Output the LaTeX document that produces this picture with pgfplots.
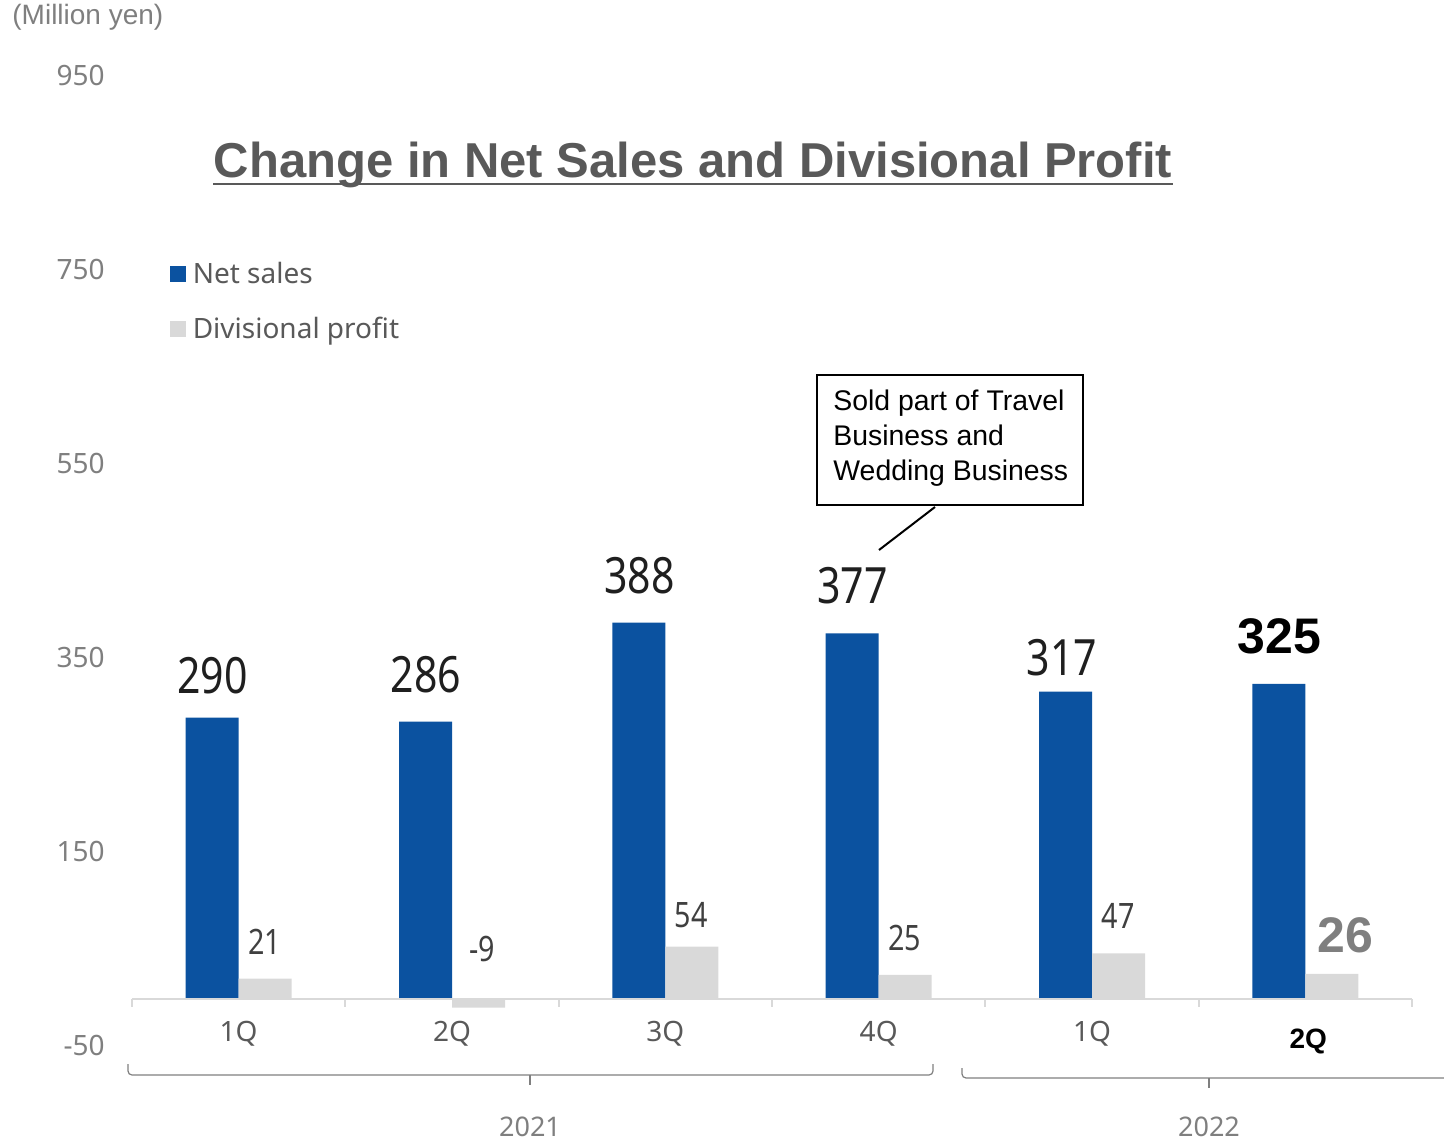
\documentclass[border=0pt]{standalone}
\usepackage{pgfplots}
\pgfplotsset{compat=1.18}
\usepackage{fontspec}
\setmainfont{Noto Sans}
\newfontfamily\arialf{Liberation Sans}
\newfontfamily\numf[FakeStretch=0.82]{Noto Sans}
\definecolor{sales}{HTML}{0B52A0}
\definecolor{profit}{HTML}{D9D9D9}
\definecolor{tgrey}{HTML}{595959}
\definecolor{lgrey}{HTML}{7F7F7F}
\definecolor{dgrey}{HTML}{404040}
\begin{document}
\begin{tikzpicture}
\path[use as bounding box] (0,0) rectangle (722pt,-571.5pt);
\begin{axis}[
  at={(66pt,-523.75pt)}, anchor=south west,
  scale only axis, width=640pt, height=485pt,
  xmin=-0.5, xmax=5.5, ymin=-50, ymax=950,
  ybar=0pt, bar width=26.5pt,
  axis line style={draw=none},
  xtick=\empty,
  ytick={-50,150,350,550,750,950},
  ytick style={draw=none},
  yticklabel style={font=\fontsize{14}{14}\selectfont, text=lgrey, anchor=east, inner sep=0pt, xshift=-13.5pt, yshift=1pt},
  /pgf/number format/assume math mode=true,
  clip=false,
  legend style={draw=none, fill=none, at={(0.0297,0.814)}, anchor=north west,
    font=\fontsize{14}{14}\selectfont\color{tgrey}, row sep=11pt, inner sep=0pt,
    nodes={inner xsep=3.2pt}},
  legend cell align=left,
]
\addplot[fill=sales, draw=none, legend image code/.code={\path[fill=sales] (0pt,-4pt) rectangle (8pt,4pt);}]
  coordinates {(0,290) (1,286) (2,388) (3,377) (4,317) (5,325)};
\addplot[fill=profit, draw=none, legend image code/.code={\path[fill=profit] (0pt,-4pt) rectangle (8pt,4pt);}]
  coordinates {(0,21) (1,-9) (2,54) (3,25) (4,47) (5,26)};
\legend{Net sales, Divisional profit}
\draw[profit, line width=1pt] (axis cs:-0.5,0) -- (axis cs:5.5,0);
\pgfplotsinvokeforeach{-0.5,0.5,1.5,2.5,3.5,4.5,5.5}{\draw[profit, line width=1pt] (axis cs:#1,0) -- ([yshift=-4pt]axis cs:#1,0);}
% category labels
\node[font=\fontsize{14}{14}\selectfont, text=tgrey] at (axis cs:0,-35.5) {1Q};
\node[font=\fontsize{14}{14}\selectfont, text=tgrey] at (axis cs:1,-35.5) {2Q};
\node[font=\fontsize{14}{14}\selectfont, text=tgrey] at (axis cs:2,-35.5) {3Q};
\node[font=\fontsize{14}{14}\selectfont, text=tgrey] at (axis cs:3,-35.5) {4Q};
\node[font=\fontsize{14}{14}\selectfont, text=tgrey] at (axis cs:4,-35.5) {1Q};
\node[font=\arialf\bfseries\fontsize{14}{14}\selectfont, text=black, xshift=1.5pt] at (axis cs:5,-44) {2Q};
% net sales labels
\node[anchor=base, font=\numf\fontsize{25}{25}\selectfont, text=black!88, xshift=-13pt, yshift=12pt] at (axis cs:0,290) {290};
\node[anchor=base, font=\numf\fontsize{25}{25}\selectfont, text=black!88, xshift=-13pt, yshift=14.5pt] at (axis cs:1,286) {286};
\node[anchor=base, font=\numf\fontsize{25}{25}\selectfont, text=black!88, xshift=-13pt, yshift=14.5pt] at (axis cs:2,388) {388};
\node[anchor=base, font=\numf\fontsize{25}{25}\selectfont, text=black!88, xshift=-13pt, yshift=15pt] at (axis cs:3,377) {377};
\node[anchor=base, font=\numf\fontsize{25}{25}\selectfont, text=black!88, xshift=-15pt, yshift=8pt] at (axis cs:4,317) {317};
\node[anchor=base, font=\arialf\bfseries\fontsize{25}{25}\selectfont, text=black, xshift=-13pt, yshift=15pt] at (axis cs:5,325) {325};
% profit labels
\node[anchor=base, font=\numf\fontsize{17.5}{17.5}\selectfont, text=dgrey, xshift=13pt, yshift=12pt] at (axis cs:0,21) {21};
\node[anchor=base, font=\numf\fontsize{17.5}{17.5}\selectfont, text=dgrey, xshift=15pt, yshift=19pt] at (axis cs:1,0) {-9};
\node[anchor=base, font=\numf\fontsize{17.5}{17.5}\selectfont, text=dgrey, xshift=13pt, yshift=9.5pt] at (axis cs:2,54) {54};
\node[anchor=base, font=\numf\fontsize{17.5}{17.5}\selectfont, text=dgrey, xshift=13pt, yshift=12pt] at (axis cs:3,25) {25};
\node[anchor=base, font=\numf\fontsize{17.5}{17.5}\selectfont, text=dgrey, xshift=13pt, yshift=12.5pt] at (axis cs:4,47) {47};
\node[anchor=base, font=\arialf\bfseries\fontsize{25}{25}\selectfont, text=lgrey, xshift=20pt, yshift=10.5pt] at (axis cs:5,26) {26};
\end{axis}
\begin{scope}[x=0.5pt, y=-0.5pt]
\node[anchor=west, font=\arialf\fontsize{14}{14}\selectfont, text=lgrey, inner sep=0pt] at (12,17) {(Million yen)};
\node[anchor=base, font=\arialf\bfseries\fontsize{24.5}{24.5}\selectfont, text=tgrey, inner sep=0pt] at (693,178) {Change in Net Sales and Divisional Profit};
\draw[tgrey, line width=1.2pt] (213,184) -- (1173,184);
\draw[black, line width=1pt] (817,375) rectangle (1083,505);
\node[anchor=base west, font=\arialf\fontsize{14.2}{14.2}\selectfont, inner sep=0pt] at (833,411) {Sold part of Travel};
\node[anchor=base west, font=\arialf\fontsize{14.2}{14.2}\selectfont, inner sep=0pt] at (833,446) {Business and};
\node[anchor=base west, font=\arialf\fontsize{14.2}{14.2}\selectfont, inner sep=0pt] at (833,481) {Wedding Business};
\draw[black, line width=1pt] (935,507) -- (879,550);
\draw[lgrey, line width=0.6pt, rounded corners=2pt] (128,1064) -- (128,1075) -- (933,1075) -- (933,1064);
\draw[lgrey, line width=0.6pt] (530,1075) -- (530,1085);
\draw[lgrey, line width=0.6pt, rounded corners=2pt] (962,1068) -- (962,1078) -- (1444,1078);
\draw[lgrey, line width=0.6pt] (1209,1078) -- (1209,1088);
\node[anchor=base, font=\fontsize{13.5}{13.5}\selectfont, text=lgrey, inner sep=0pt] at (530,1136) {2021};
\node[anchor=base, font=\fontsize{13.5}{13.5}\selectfont, text=lgrey, inner sep=0pt] at (1209,1136) {2022};
\end{scope}
\end{tikzpicture}
\end{document}
